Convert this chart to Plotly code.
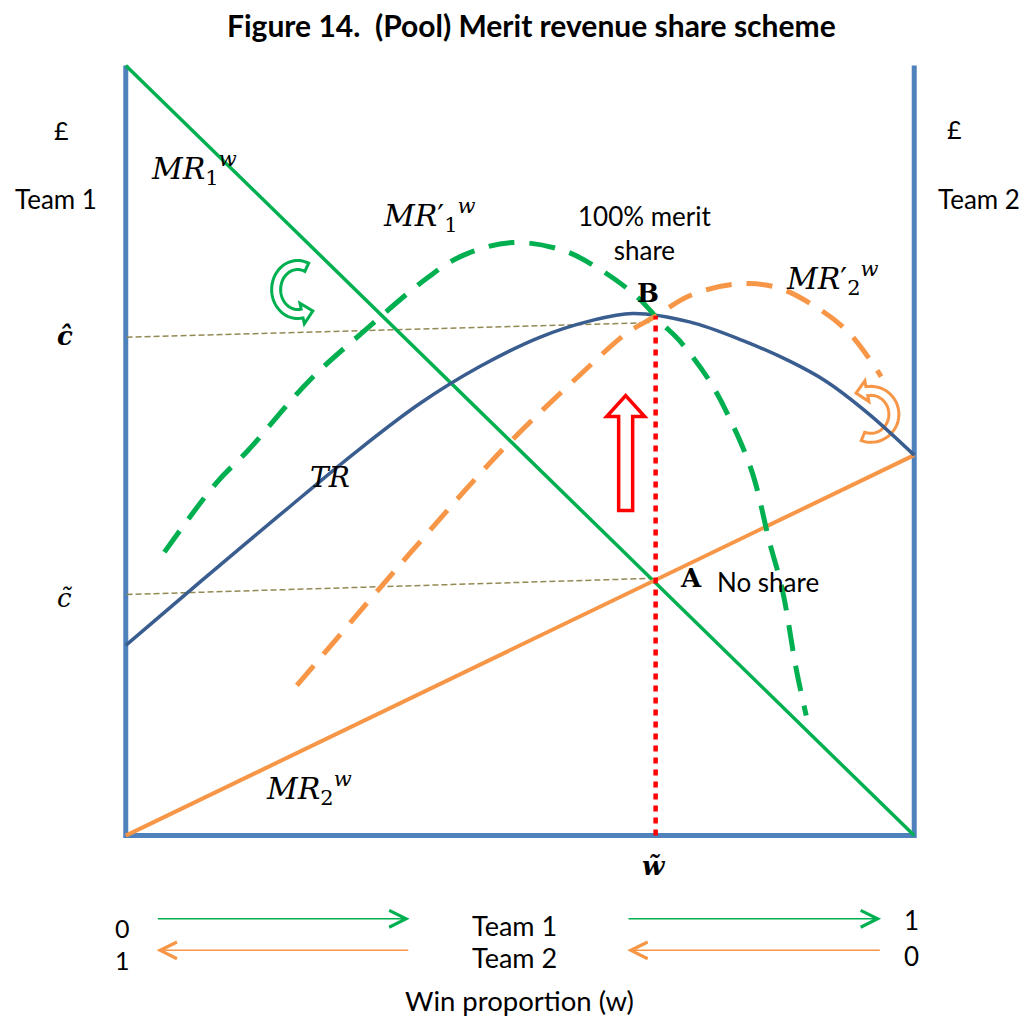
import numpy as np
import plotly.graph_objects as go

# ---------------- data (w = win proportion 0..1, v = £ value 0..1) ----------------
mr1_w = [0.0, 1.0]
mr1_v = [1.0, 0.0]
mr2_w = [0.0, 1.0]
mr2_v = [0.0, 0.494]
tr_w = [0.0, 0.094, 0.195, 0.293, 0.373, 0.449, 0.525, 0.588, 0.643, 0.715, 0.782, 0.842, 0.888, 0.943, 1.0]
tr_v = [0.247, 0.329, 0.416, 0.499, 0.561, 0.609, 0.647, 0.668, 0.678, 0.667, 0.643, 0.616, 0.590, 0.547, 0.494]
mr1p_w = [0.049, 0.115, 0.155, 0.233, 0.300, 0.381, 0.427, 0.490, 0.554, 0.597, 0.647,
          0.680, 0.702, 0.740, 0.769, 0.795, 0.816, 0.833, 0.850, 0.863]
mr1p_v = [0.368, 0.458, 0.500, 0.591, 0.653, 0.723, 0.753, 0.770, 0.760, 0.738, 0.701,
          0.665, 0.643, 0.591, 0.535, 0.470, 0.383, 0.318, 0.218, 0.156]
mr2p_w = [0.217, 0.322, 0.360, 0.474, 0.578, 0.635, 0.673, 0.715, 0.774, 0.825, 0.876, 0.918, 0.958]
mr2p_v = [0.195, 0.321, 0.366, 0.497, 0.600, 0.652, 0.675, 0.701, 0.716, 0.712, 0.686, 0.652, 0.596]
chat_w = [0.001, 0.664]
chat_v = [0.647, 0.666]
ctil_w = [0.001, 0.667]
ctil_v = [0.313, 0.334]
w_tilde = 0.672
b_level = 0.675
frame_w = [0.0, 0.0, 1.0, 1.0]
frame_v = [1.0, 0.0, 0.0, 1.0]

# ---------------- styling ----------------
GREEN = "#00b050"
ORANGE = "#f79646"
NAVY = "#3a5d8f"
FRAME = "#4f81bd"
OLIVE = "#938953"
RED = "#ff0000"
BODY = "Lato"
MATH = "DejaVu Serif"
PAD = 0.02          # axis range padding (so frame lines are not clipped)
PX_W = 789          # pixels per unit on the w axis
PX_V = 770          # pixels per unit on the value axis

fig = go.Figure()


def line(x, y, color, width, dash="solid", shape="linear", smoothing=1.0):
    fig.add_trace(go.Scatter(x=x, y=y, mode="lines", hoverinfo="skip", showlegend=False,
                             line=dict(color=color, width=width, dash=dash, shape=shape,
                                       smoothing=smoothing)))


line(frame_w, frame_v, FRAME, 5)
line(chat_w, chat_v, OLIVE, 1.5, dash="6px,3px")
line(ctil_w, ctil_v, OLIVE, 1.5, dash="6px,3px")
line(mr1_w, mr1_v, GREEN, 3.5)
line(mr2_w, mr2_v, ORANGE, 4)
line(tr_w, tr_v, NAVY, 3.5, shape="spline", smoothing=1.0)
line(mr1p_w, mr1p_v, GREEN, 5, dash="26px,15px", shape="spline")
line(mr2p_w, mr2p_v, ORANGE, 5, dash="26px,15px", shape="spline")
line([w_tilde, w_tilde], [0.0, b_level], RED, 4.5, dash="6px,6px")


# ---------------- decorative arrows (pixel-sized shapes) ----------------
def curved_arrow(rxo, ryo, rxi, ryi, t0, t1, head_len, head_ext, n=40):
    ts = np.radians(np.linspace(t0, t1, n))
    outer = [np.array([rxo * np.cos(t), ryo * np.sin(t)]) for t in ts]
    inner = [np.array([rxi * np.cos(t), ryi * np.sin(t)]) for t in ts[::-1]]
    te = ts[-1]
    oe, ie = outer[-1], inner[0]
    nv = (oe - ie) / np.linalg.norm(oe - ie)
    rxm, rym = (rxo + rxi) / 2, (ryo + ryi) / 2
    tg = np.array([-rxm * np.sin(te), rym * np.cos(te)])
    tg = tg / np.linalg.norm(tg)
    tip = (oe + ie) / 2 + head_len * tg
    pts = outer + [oe + head_ext * nv, tip, ie - head_ext * nv] + inner
    return "M " + " L ".join(f"{p[0]:.1f},{p[1]:.1f}" for p in pts) + " Z"


def pix_shape(xa, ya, path, color, width):
    fig.add_shape(type="path", xref="x", yref="y", xsizemode="pixel", ysizemode="pixel",
                  xanchor=xa, yanchor=ya, path=path, layer="below",
                  line=dict(color=color, width=width), fillcolor="white")


pix_shape(0.218, 0.709, curved_arrow(26, 29, 17, 20, 65, 282, 11, 6), GREEN, 3)
pix_shape(0.945, 0.547, curved_arrow(28, 28, 18, 19, -110, 100, 11, 6), ORANGE, 3)
up_arrow = "M -7,0 L 7,0 L 7,94 L 19,94 L 0,115 L -19,94 L -7,94 Z"
pix_shape(0.634, 0.422, up_arrow, RED, 3.5)


# ---------------- texts (paper coordinates so they may sit outside the axes) ----------------
def px(w):
    return (w + PAD) / (1 + 2 * PAD)


def py(v):
    return (v + PAD) / (1 + 2 * PAD)


def txt(x, y, s, size=26, family=BODY, color="black"):
    fig.add_annotation(x=px(x), y=py(y), xref="paper", yref="paper", text=s, showarrow=False,
                       xanchor="center", yanchor="middle",
                       font=dict(family=family, size=size, color=color))


txt(0.515, 1.052, "<b>Figure 14.  (Pool) Merit revenue share scheme</b>", size=30)
txt(-0.081, 0.916, "£", size=25)
txt(-0.089, 0.827, "Team 1", size=26)
txt(1.051, 0.918, "£", size=25)
txt(1.082, 0.827, "Team 2", size=26)
txt(0.087, 0.866, "<i>MR</i><sub>1</sub><sup><i>w</i></sup>", size=30, family=MATH)
txt(0.385, 0.805, "<i>MR</i>′<sub>1</sub><sup><i>w</i></sup>", size=30, family=MATH)
txt(0.658, 0.783, "100% merit<br>share", size=26)
txt(0.662, 0.705, "<b>B</b>", size=26, family=MATH)
txt(0.896, 0.723, "<i>MR</i>′<sub>2</sub><sup><i>w</i></sup>", size=30, family=MATH)
txt(0.259, 0.465, "<i>TR</i>", size=28, family=MATH)
txt(0.717, 0.334, "<b>A</b>", size=26, family=MATH)
txt(0.814, 0.329, "No share", size=26)
txt(0.233, 0.061, "<i>MR</i><sub>2</sub><sup><i>w</i></sup>", size=30, family=MATH)
txt(-0.077, 0.649, "<b><i>ĉ</i></b>", size=26, family=MATH)
txt(-0.077, 0.308, "<i>c\u0303</i>", size=26, family=MATH)
txt(0.670, -0.039, "<b><i>w\u0303</i></b>", size=26, family=MATH)
txt(-0.004, -0.120, "0", size=25)
txt(-0.004, -0.162, "1", size=25)
txt(0.493, -0.117, "Team 1", size=27)
txt(0.493, -0.158, "Team 2", size=27)
txt(0.996, -0.110, "1", size=26)
txt(0.996, -0.156, "0", size=26)
txt(0.499, -0.214, "Win proportion (w)", size=27.5)


def flow_arrow(x_tail, x_head, y, color):
    fig.add_annotation(x=px(x_head), y=py(y), xref="paper", yref="paper",
                       ax=(x_tail - x_head) * PX_W, ay=0, axref="pixel", ayref="pixel",
                       text="", showarrow=True, arrowhead=5, arrowsize=2.2,
                       arrowwidth=1.5, arrowcolor=color)


flow_arrow(0.039, 0.360, -0.108, GREEN)
flow_arrow(0.360, 0.039, -0.149, ORANGE)
flow_arrow(0.636, 0.958, -0.108, GREEN)
flow_arrow(0.958, 0.636, -0.149, ORANGE)

# page body has an 8px margin, so the plot area is shifted by 8px left/up to compensate
fig.update_layout(
    width=1027, height=1017,
    margin=dict(l=102, r=105, t=42, b=174),
    paper_bgcolor="white", plot_bgcolor="white",
    xaxis=dict(range=[-PAD, 1 + PAD], visible=False, fixedrange=True),
    yaxis=dict(range=[-PAD, 1 + PAD], visible=False, fixedrange=True),
    showlegend=False,
)

fig.write_html("out.html")
